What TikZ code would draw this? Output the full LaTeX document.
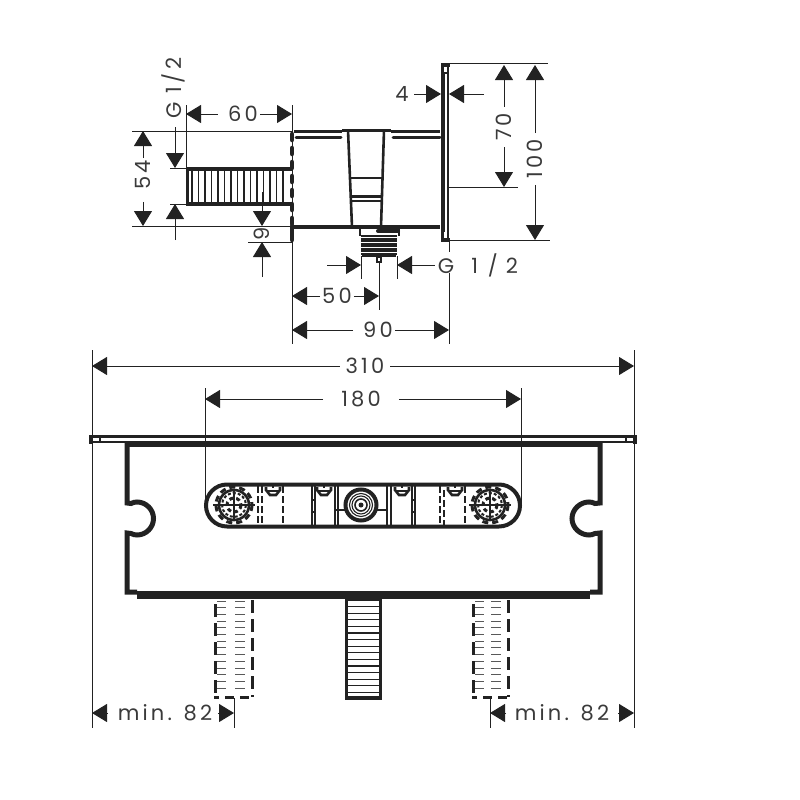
\documentclass[tikz,border=0pt]{standalone}
\usepackage{fontspec}
\setmainfont{Poppins}[LetterSpace=15]
\usetikzlibrary{arrows.meta}
\definecolor{ink}{HTML}{222222}
\definecolor{txt}{HTML}{3a3a3a}
\tikzset{
  x=1pt,y=-1pt,
  ext/.style={draw=ink,line width=1pt},
  dim/.style={draw=ink,line width=1pt,-{Triangle[length=15pt,width=18pt]}},
  lbl/.style={text=txt,font=\fontsize{21}{21}\selectfont,inner sep=4pt},
  thick line/.style={draw=ink,line width=4pt},
  mid line/.style={draw=ink,line width=2.6pt},
  fine/.style={draw=ink,line width=1.1pt},
  pipe hatch/.style={draw=ink!75,line width=1pt},
  dash pipe/.style={draw=ink,line width=3pt,dash pattern=on 13pt off 6pt},
  dash fine/.style={draw=ink,line width=1.8pt,dash pattern=on 7pt off 3pt}
}
\begin{document}
\begin{tikzpicture}
\useasboundingbox (0,0) rectangle (800,800);
% --- named dimension ends
\coordinate (a60l) at (186,114); \coordinate (a60r) at (292,114);
\coordinate (a54t) at (143,131); \coordinate (a54b) at (143,226);
\coordinate (gt0) at (175,127); \coordinate (gt) at (175,168);
\coordinate (gb0) at (175,240); \coordinate (gb) at (175,204);
\coordinate (n9t0) at (262,192); \coordinate (n9t) at (262,226);
\coordinate (n9b0) at (262,277); \coordinate (n9b) at (262,242);
\coordinate (f4l0) at (414,94); \coordinate (f4l) at (441,94);
\coordinate (f4r0) at (484,94); \coordinate (f4r) at (449,94);
\coordinate (a70t) at (504,65); \coordinate (a70b) at (504,187);
\coordinate (a100t) at (535,65); \coordinate (a100b) at (535,240);
\coordinate (gl0) at (327,265); \coordinate (gl) at (361,265);
\coordinate (gr) at (397,265);
\coordinate (a50l) at (292,296); \coordinate (a50r) at (379,296);
\coordinate (a90l) at (292,330); \coordinate (a90r) at (449,330);
\coordinate (a310l) at (92,366); \coordinate (a310r) at (634,366);
\coordinate (a180l) at (205,399); \coordinate (a180r) at (521,399);
\coordinate (m1l) at (92,713); \coordinate (m1l0) at (108,713);
\coordinate (m1r) at (234,713); \coordinate (m1r0) at (218,713);
\coordinate (m2l) at (490,713); \coordinate (m2l0) at (506,713);
\coordinate (m2r) at (634,713); \coordinate (m2r0) at (618,713);
% --- labels
\node[lbl,inner sep=2pt] (t60) at (243,114) {60};
\node[lbl,rotate=90,inner sep=2pt] (t54) at (143,175) {54};
\node[lbl,rotate=90,inner sep=1pt] (tg1) at (173,88) {G 1/2};
\node[lbl,rotate=90,inner sep=1pt] (t9) at (262,234) {9};
\node[lbl] (t4) at (402,94) {4};
\node[lbl,rotate=90,inner sep=6pt] (t70) at (504,127) {70};
\node[lbl,rotate=90,inner sep=6pt] (t100) at (535,159) {100};
\node[lbl,inner sep=3pt] (tg2) at (478,265) {G\hspace{17pt}1\hspace{10pt}/\hspace{8pt}2};
\node[lbl,inner sep=2pt] (t50) at (337,296) {50};
\node[lbl,inner sep=2pt] (t90) at (378,330) {90};
\node[lbl,inner sep=6pt] (t310) at (365,366) {310};
\node[lbl,inner sep=18pt] (t180) at (361,399) {180};
\node[lbl,inner sep=2pt] (tm1) at (165,713) {min. 82};
\node[lbl,inner sep=2pt] (tm2) at (562,713) {min. 82};
% --- dimensions
\draw[dim,shorten <=8pt] (t60) -- (a60l); \draw[dim] (t60) -- (a60r);
\draw[dim] (t54) -- (a54t); \draw[dim,shorten <=10pt] (t54) -- (a54b);
\draw[dim] (gt0) -- (gt); \draw[dim] (gb0) -- (gb);
\draw[dim] (n9t0) -- (n9t); \draw[dim] (n9b0) -- (n9b);
\draw[dim] (f4l0) -- (f4l); \draw[dim] (f4r0) -- (f4r);
\draw[dim] (t70) -- (a70t); \draw[dim] (t70) -- (a70b);
\draw[dim] (t100) -- (a100t); \draw[dim] (t100) -- (a100b);
\draw[dim] (gl0) -- (gl); \draw[dim] (tg2) -- (gr);
\draw[dim] (t50) -- (a50l); \draw[dim] (t50) -- (a50r);
\draw[dim,shorten <=8pt] (t90) -- (a90l); \draw[dim] (t90) -- (a90r);
\draw[dim] (t310) -- (a310l); \draw[dim] (t310) -- (a310r);
\draw[dim] (t180) -- (a180l); \draw[dim] (t180) -- (a180r);
\draw[dim] (m1l0) -- (m1l); \draw[dim] (m1r0) -- (m1r);
\draw[dim] (m2l0) -- (m2l); \draw[dim] (m2r0) -- (m2r);
% --- extension lines
\draw[ext] (186,105) -- (186,168) (292,105) -- (292,344);
\draw[ext] (132,131) -- (292,131) (132,226) -- (292,226);
\draw[ext] (170,168) -- (186,168) (170,204) -- (186,204);
\draw[ext] (248,242) -- (292,242);
\draw[ext] (449,64) -- (548,64) (449,187) -- (518,187) (449,240) -- (550,240);
\draw[ext] (361,256) -- (361,279) (397,256) -- (397,279);
\draw[ext] (379,262) -- (379,310);
\draw[ext] (449,241) -- (449,252) (449,273) -- (449,344);
\draw[ext] (92,350) -- (92,728) (634,350) -- (634,728);
\draw[ext] (205,388) -- (205,505) (521,388) -- (521,505);
\draw[ext] (234,698) -- (234,728) (490,698) -- (490,728);
% --- side view: flange
\draw[thick line] (443,64) -- (443,241);
\draw[mid line] (448,64) -- (448,241);
\draw[thick line] (441,65) -- (449.5,65) (441,240) -- (449.5,240);
\draw[draw=white,line width=3pt] (445.4,67.5) -- (445.4,73) (445.4,232) -- (445.4,237.5);
\draw[fine] (444,73) -- (447,73);
% --- side view: body
\draw[draw=ink,line width=3pt] (294,131) -- (342,131) (391,131) -- (440,131);
\draw[draw=ink,line width=3pt,line cap=round] (296,137.5) -- (341,137.5) (393,137.5) -- (440,137.5);
\draw[draw=ink,line width=3pt] (342,130.5) -- (391,130.5);
\draw[thick line] (293,227) -- (440,227);
\draw[draw=ink,line width=4.5pt,line cap=round,dash pattern=on 6pt off 8pt] (292,134) -- (292,225);
\draw[draw=ink,line width=4.5pt,line cap=round] (292,226) -- (292,240);
\draw[mid line] (348,130) -- (352,227) (384,130) -- (381,227);
\draw[fine] (351,178) -- (383,178) (352,201) -- (382,201);
\draw[mid line] (351,196.5) -- (382,196.5);
\draw[thick line,line cap=round] (378,231) -- (398,231);
\draw[mid line] (360,229) -- (360,236) (399,229) -- (399,236);
\foreach \y in {236,238.5,...,254} \draw[draw=ink,line width=2pt] (361,\y) -- (397,\y);
\draw[draw=ink,line width=2pt] (362,256) -- (396,256);
\draw[fine,fill=white] (377,257) rectangle (381,262);
% --- side view: spout
\draw[draw=ink,line width=3.4pt] (292,169) -- (187.5,169) -- (187.5,204) -- (292,204);
\foreach \x in {192,198.5,...,288} \draw[fine] (\x,170) -- (\x,203);
% --- front view: plate
\draw[mid line] (91,436.5) -- (636,436.5);
\draw[mid line] (91,442) -- (636,442);
\draw[thick line] (91,435) -- (91,444) (635,435) -- (635,444);
\draw[fine] (100,436) -- (100,442) (626,436) -- (626,442);
% --- front view: box
\draw[thick line] (127,445) -- (601,445);
\draw[thick line,line width=5pt] (127,443) -- (127,503) -- (131,503.5) .. controls (133,502.5) and (135,502) .. (137,502)
  .. controls (146,502) and (153.5,509.4) .. (153.5,518.5) .. controls (153.5,527.6) and (146,535) .. (137,535)
  .. controls (135,535) and (133,534.5) .. (131,533.5) -- (127,533) -- (127,592) -- (137,592);
\draw[thick line,line width=5pt] (600,443) -- (600,503) -- (595,503.5) .. controls (593,502.5) and (591,502) .. (589,502)
  .. controls (580,502) and (572,509.4) .. (572,518.5) .. controls (572,527.6) and (580,535) .. (589,535)
  .. controls (591,535) and (593,534.5) .. (595,533.5) -- (600,533) -- (600,592) -- (590,592);
\draw[draw=ink,line width=8pt] (137,594.5) -- (590,594.5);
% --- front view: oval
\draw[thick line,rounded corners=21pt] (206,484.5) rectangle (520,526.5);
% valve circles
\foreach \cx/\r in {234/15,490/15}{
  \draw[mid line] (\cx,505) circle[radius=\r];
  \draw[draw=ink,line width=2pt,dash pattern=on 3pt off 2pt] (\cx,505) circle[radius=\r-3];
  \draw[draw=ink,line width=3pt,dash pattern=on 4pt off 3pt] (\cx,505) circle[radius=\r-8];
  \draw[fine] (\cx-\r-6,505) -- (\cx+\r+6,505) (\cx,505-\r) -- (\cx,505+\r);
  \fill[ink] (\cx,505) circle[radius=1.5];
  \draw[draw=ink,line width=3pt,dash pattern=on 6pt off 4pt] (\cx,505) circle[radius=\r+3];
}
\draw[thick line] (361,505) circle[radius=15.5];
\draw[fine] (361,505) circle[radius=11.5];
\draw[fine] (361,505) circle[radius=9];
\draw[draw=ink,line width=1.6pt] (361,505) circle[radius=6];
\fill[ink] (361,505) circle[radius=2.5];
\draw[mid line] (336,510) -- (345,510) (377,510) -- (388,510);
% fittings
\foreach \x in {273,324,402,455}{
  \draw[mid line] (\x-7,487) -- (\x-7,490) -- (\x-3,495) -- (\x+3,495) -- (\x+7,490) -- (\x+7,487);
  \draw[fine] (\x-6,491) -- (\x+6,491);
  \draw[mid line] (\x,485) -- (\x,488);
}
\draw[fine] (312,486) -- (312,525) (315,486) -- (315,525);
\draw[fine] (335,486) -- (335,525) (338,486) -- (338,525);
\draw[fine] (387,486) -- (387,525) (391,486) -- (391,525);
\draw[fine] (412,486) -- (412,525) (415,486) -- (415,525);
\draw[fine] (312,500) -- (315,500) (312,512) -- (315,512) (412,500) -- (415,500) (412,512) -- (415,512);
\draw[dash fine] (258,486) -- (258,525) (262,486) -- (262,525) (283,486) -- (283,525);
\draw[dash fine] (440,486) -- (440,525) (444,490) -- (444,525) (465,486) -- (465,525);
% --- lower pipes
\foreach \l/\r in {215/252,473/508}{
  \draw[dash pipe] (\l,604) -- (\l,697);
  \draw[dash pipe] (\r,600) -- (\r,697);
  \draw[draw=ink,line width=3pt,dash pattern=on 5pt off 6pt on 9pt off 6pt on 9pt off 9pt] (\l-1,697) -- (\r+1,697);
  \foreach \y in {601,607.7,...,692}{
    \draw[pipe hatch] (\l+2,\y) -- (\l+11,\y) (\r-17,\y) -- (\r-7,\y);
  }
}
% --- centre pipe
\draw[draw=ink,line width=3.4pt] (346.5,598) -- (346.5,698) -- (380.5,698) -- (380.5,598);
\foreach \y in {600,606.6,...,695} \draw[fine] (348,\y) -- (379,\y);
\end{tikzpicture}
\end{document}
